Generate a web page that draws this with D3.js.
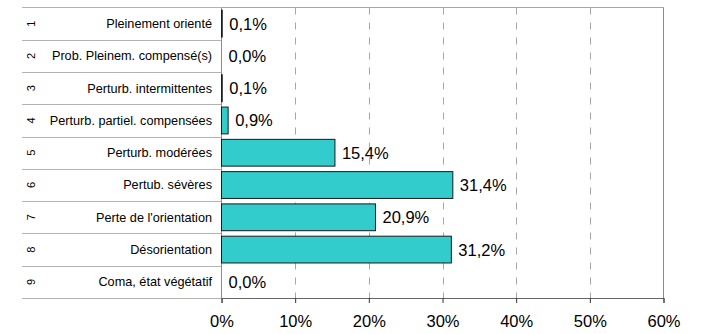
<!DOCTYPE html>
<html>
<head>
<meta charset="utf-8">
<script src="https://cdn.jsdelivr.net/npm/d3@7"></script>
<style>
  html, body { margin: 0; padding: 0; background: #fff; }
  svg { display: block; font-family: "Liberation Sans", Arial, sans-serif; }
</style>
</head>
<body>
<svg id="chart" width="704" height="334"></svg>
<script>
const rowNumbers = ["1", "2", "3", "4", "5", "6", "7", "8", "9"];
const categories = [
  "Pleinement orienté",
  "Prob. Pleinem. compensé(s)",
  "Perturb. intermittentes",
  "Perturb. partiel. compensées",
  "Perturb. modérées",
  "Pertub. sévères",
  "Perte de l'orientation",
  "Désorientation",
  "Coma, état végétatif"
];
const values = [0.1, 0.0, 0.1, 0.9, 15.4, 31.4, 20.9, 31.2, 0.0];
const tickValues = [0, 10, 20, 30, 40, 50, 60];

(function () {
const svg = d3.select("#chart");
const pLeft = 221.5, pRight = 663.5, pTop = 7.5, pBottom = 298;
const labelLeft = 22;

const rows = categories.map((c, i) => ({ cat: c, num: rowNumbers[i], value: values[i] }));

const x = d3.scaleLinear().domain([0, 60]).range([pLeft, pRight]);
const y = d3.scaleBand().domain(categories).range([pTop, pBottom])
  .paddingInner(0.17).paddingOuter(0.085);
const step = y.step();
const rowTop = d => y(d) - y.paddingInner() * step / 2;
const mid = d => y(d.cat) + y.bandwidth() / 2;

const fr = d3.formatLocale({ decimal: ",", thousands: " ", grouping: [3], currency: ["", "€"] });
const fmt = fr.format(".1f");

// gridlines
svg.append("g").selectAll("line").data(tickValues.filter(t => t > 0 && t < 60)).join("line")
  .attr("x1", d => Math.round(x(d)) + 0.5).attr("x2", d => Math.round(x(d)) + 0.5)
  .attr("y1", pTop).attr("y2", pBottom)
  .attr("stroke", "#a6a6a6").attr("stroke-width", 1).attr("stroke-dasharray", "7,8");

// row separators in label area
const bounds = categories.map(rowTop).concat([pBottom]);
svg.append("g").selectAll("line").data(bounds).join("line")
  .attr("x1", labelLeft).attr("x2", pLeft)
  .attr("y1", d => Math.round(d) + 0.5).attr("y2", d => Math.round(d) + 0.5)
  .attr("stroke", "#b3b3b3").attr("stroke-width", 1);

// plot frame
svg.append("line").attr("x1", pLeft).attr("x2", pRight).attr("y1", pTop).attr("y2", pTop)
  .attr("stroke", "#a6a6a6");
svg.append("line").attr("x1", pRight).attr("x2", pRight).attr("y1", pTop).attr("y2", pBottom)
  .attr("stroke", "#8c8c8c");
svg.append("line").attr("x1", pLeft).attr("x2", pLeft).attr("y1", pTop).attr("y2", pBottom)
  .attr("stroke", "#8c8c8c");

// bars
svg.append("g").selectAll("rect").data(rows.filter(d => d.value > 0)).join("rect")
  .attr("x", x(0))
  .attr("y", d => y(d.cat))
  .attr("width", d => x(d.value) - x(0))
  .attr("height", y.bandwidth())
  .attr("fill", "#33cccc")
  .attr("stroke", "#1a1a1a").attr("stroke-width", 1);

// value labels
svg.append("g").selectAll("text").data(rows).join("text")
  .attr("x", d => x(d.value) + 7)
  .attr("y", mid)
  .attr("dy", "0.36em")
  .attr("font-size", "16.5px")
  .attr("fill", "#000")
  .text(d => fmt(d.value) + "%");

// category labels
svg.append("g").selectAll("text").data(rows).join("text")
  .attr("x", 212)
  .attr("y", mid)
  .attr("dy", "0.35em")
  .attr("text-anchor", "end")
  .attr("font-size", "12.7px")
  .attr("fill", "#000")
  .text(d => d.cat);

// rotated row numbers
svg.append("g").selectAll("text").data(rows).join("text")
  .attr("transform", d => `translate(31,${mid(d)}) rotate(-90)`)
  .attr("dy", "0.35em")
  .attr("text-anchor", "middle")
  .attr("font-size", "11px")
  .attr("fill", "#000")
  .text(d => d.num);

// bottom axis
const axis = d3.axisBottom(x).tickValues(tickValues).tickSize(5).tickPadding(12)
  .tickFormat(d => d + "%");
const ax = svg.append("g").attr("transform", `translate(0,${pBottom})`).call(axis);
ax.select(".domain").attr("stroke", "#666");
ax.selectAll(".tick line").attr("stroke", "#333");
ax.selectAll(".tick text").attr("font-size", "16.5px").attr("fill", "#000")
  .attr("font-family", "Liberation Sans, Arial, sans-serif");
})();
</script>
</body>
</html>
